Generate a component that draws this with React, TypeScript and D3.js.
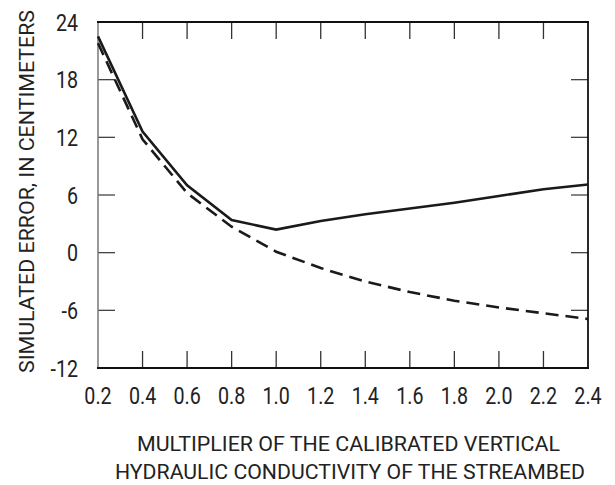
import React from "react";
import * as d3 from "d3";

const multipliers = [0.2, 0.4, 0.6, 0.8, 1.0, 1.2, 1.4, 1.6, 1.8, 2.0, 2.2, 2.4];
const solidSeries = [22.5, 12.6, 7.0, 3.4, 2.4, 3.3, 4.0, 4.6, 5.2, 5.9, 6.6, 7.1];
const dashedSeries = [21.8, 11.8, 6.2, 2.7, 0.1, -1.6, -3.0, -4.1, -5.0, -5.7, -6.3, -6.9];
const yTicks = [-12, -6, 0, 6, 12, 18, 24];
const xTicks = [0.2, 0.4, 0.6, 0.8, 1.0, 1.2, 1.4, 1.6, 1.8, 2.0, 2.2, 2.4];
const yTitle = "SIMULATED ERROR, IN CENTIMETERS";
const xTitle1 = "MULTIPLIER OF THE CALIBRATED VERTICAL";
const xTitle2 = "HYDRAULIC CONDUCTIVITY OF THE STREAMBED";

const FONT = "Roboto, 'Liberation Sans', Arial, sans-serif";

function CText({ x, y, anchor, size, sx, children }: any) {
  return (
    <g transform={`translate(${x},${y}) scale(${sx},1)`}>
      <text x={0} y={0} textAnchor={anchor} fontFamily={FONT} fontSize={size} fill="#222">
        {children}
      </text>
    </g>
  );
}

export default function App() {
  const W = 615, H = 485;
  const L = 98, R = 588, T = 22, B = 368;
  const x = d3.scaleLinear().domain([0.2, 2.4]).range([L, R]);
  const y = d3.scaleLinear().domain([-12, 24]).range([B, T]);
  const line = d3.line<number>().x((_, i) => x(multipliers[i])).y((d) => y(d));
  const tickLen = 17;
  return (
    <svg width={W} height={H} style={{ position: "absolute", left: 0, top: 0, background: "#fff" }}>
      {/* ticks */}
      {xTicks.slice(1, -1).map((t) => (
        <g key={"xt" + t} stroke="#333" strokeWidth={1.3}>
          <line x1={x(t)} x2={x(t)} y1={B} y2={B - tickLen} />
          <line x1={x(t)} x2={x(t)} y1={T} y2={T + tickLen} />
        </g>
      ))}
      {yTicks.slice(1, -1).map((t) => (
        <g key={"yt" + t} stroke="#444" strokeWidth={1.3}>
          <line x1={L} x2={L + tickLen} y1={y(t)} y2={y(t)} />
          <line x1={R} x2={R - tickLen} y1={y(t)} y2={y(t)} />
        </g>
      ))}
      {/* frame */}
      <line x1={L} x2={L} y1={T} y2={B} stroke="#777" strokeWidth={1.5} />
      <line x1={L - 1} x2={R + 1} y1={T} y2={T} stroke="#111" strokeWidth={2} />
      <line x1={L - 1} x2={R + 1} y1={B} y2={B} stroke="#111" strokeWidth={1.8} />
      <line x1={R} x2={R} y1={T} y2={B} stroke="#111" strokeWidth={1.8} />
      {/* series */}
      <path d={line(solidSeries) || ""} fill="none" stroke="#1a1a1a" strokeWidth={2.6} strokeLinejoin="miter" />
      <path d={line(dashedSeries) || ""} fill="none" stroke="#1a1a1a" strokeWidth={2.6} strokeDasharray="13,7" />
      {/* tick labels */}
      {yTicks.map((t) => (
        <CText key={"yl" + t} x={78} y={y(t) + 8.5} anchor="end" size={24} sx={0.82}>
          {t}
        </CText>
      ))}
      {xTicks.map((t) => (
        <CText key={"xl" + t} x={x(t)} y={404} anchor="middle" size={24} sx={0.82}>
          {t.toFixed(1)}
        </CText>
      ))}
      {/* titles */}
      <text transform={`translate(34,191.5) rotate(-90)`} textAnchor="middle" fontFamily={FONT} fontSize={20.5} fill="#222"
        textLength={363} lengthAdjust="spacingAndGlyphs">
        {yTitle}
      </text>
      <text x={348.5} y={451} textAnchor="middle" fontFamily={FONT} fontSize={20.5} fill="#222"
        textLength={423} lengthAdjust="spacingAndGlyphs">
        {xTitle1}
      </text>
      <text x={350} y={479} textAnchor="middle" fontFamily={FONT} fontSize={20.5} fill="#222"
        textLength={470} lengthAdjust="spacingAndGlyphs">
        {xTitle2}
      </text>
    </svg>
  );
}
